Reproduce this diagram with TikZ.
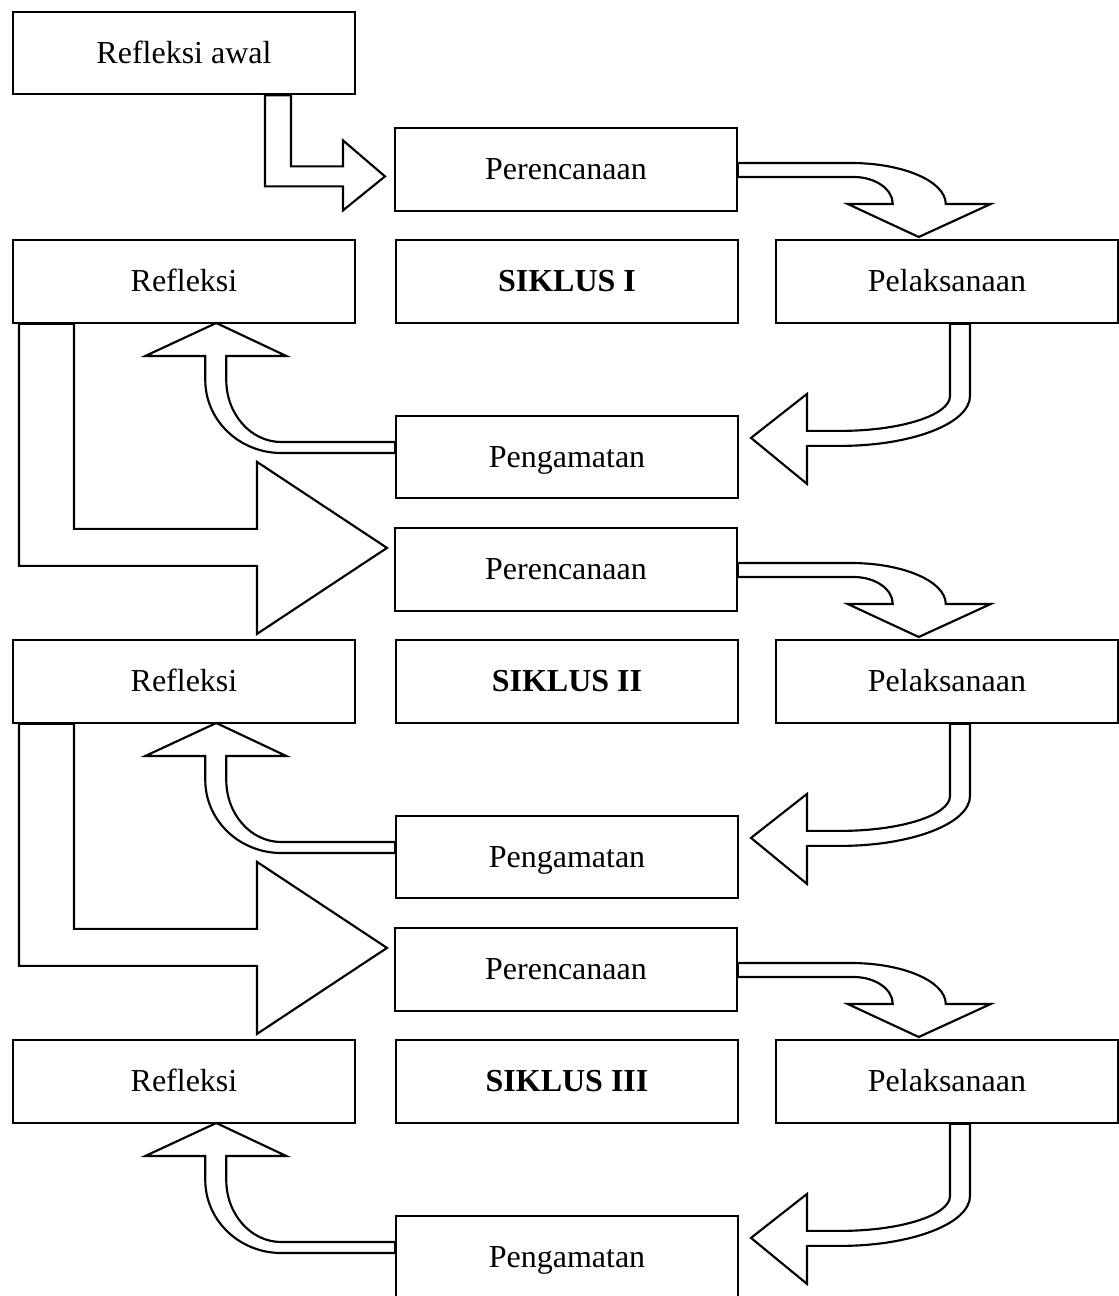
\documentclass[tikz,border=0pt]{standalone}
\usepackage{fontspec}
\setmainfont{Liberation Serif}

\begin{document}
\begin{tikzpicture}[x=0.375pt, y=-0.375pt, line width=0.8pt,
    kotak/.style={draw, minimum width=128pt, minimum height=31pt, inner sep=0pt,
        text height=9.8pt, text depth=2pt, font=\fontsize{12}{14}\selectfont},
    panah/.style={draw, line join=miter}]
    \useasboundingbox (0,0) rectangle (1118,1296);
    \node[kotak] (awal) at (184,53) {Refleksi awal};
    \foreach \i/\s in {0/I,1/II,2/III} {
        \node[kotak] (ren\i) at (566,{169.5+400*\i}) {Perencanaan};
        \node[kotak] (ref\i) at (184,{281.5+400*\i}) {Refleksi};
        \node[kotak] (sik\i) at (567,{281.5+400*\i}) {\textbf{SIKLUS \s}};
        \node[kotak] (pel\i) at (947,{281.5+400*\i}) {Pelaksanaan};
        \node[kotak] (eng\i) at (567,{457+400*\i}) {Pengamatan};
        % perencanaan -> pelaksanaan
        \begin{scope}[shift={(ren\i.east)}]
            \draw[panah] (0,-6.5) -- (113,-6.5) .. controls (165.5,-6.5) and (208,11.9) .. (208,34.5)
                -- (253,34.5) -- (181,67.5) -- (110,34.5) -- (155,34.5)
                .. controls (155,19.6) and (137.5,7.5) .. (116,7.5) -- (0,7.5) -- cycle;
        \end{scope}
        % pelaksanaan -> pengamatan
        \begin{scope}[shift={(pel\i.south)}]
            \draw[panah] (3,0) -- (3,72) .. controls (3,91.3) and (-46.3,107) .. (-107,107)
                -- (-140,107) -- (-140,70) -- (-196,114) -- (-140,160) -- (-140,122) -- (-107,122)
                .. controls (-35.2,122) and (23,99.6) .. (23,72) -- (23,0) -- cycle;
        \end{scope}
        % pengamatan -> refleksi
        \begin{scope}[shift={(eng\i.west)}]
            \draw[panah] (0,-15) -- (-114,-15) .. controls (-144.4,-15) and (-169,-42.8) .. (-169,-77)
                -- (-169,-101) -- (-109,-101) -- (-179,-134) -- (-250,-101) -- (-190,-101) -- (-190,-77)
                .. controls (-190,-36.7) and (-156,-4) .. (-114,-4) -- (0,-4) -- cycle;
        \end{scope}
        % refleksi -> siklus berikutnya
        \ifnum\i<2
        \begin{scope}[shift={(ref\i.south)}]
            \draw[panah] (-110,0) -- (-110,205) -- (73,205) -- (73,138) -- (203,224) -- (73,310)
                -- (73,242) -- (-165,242) -- (-165,0) -- cycle;
        \end{scope}
        \fi
    }
    % refleksi awal -> perencanaan
    \begin{scope}[shift={(awal.south)}]
        \draw[panah] (81,0) -- (81,91) -- (159,91) -- (159,115) -- (201,81) -- (159,45)
            -- (159,71) -- (107,71) -- (107,0) -- cycle;
    \end{scope}
\end{tikzpicture}
\end{document}
